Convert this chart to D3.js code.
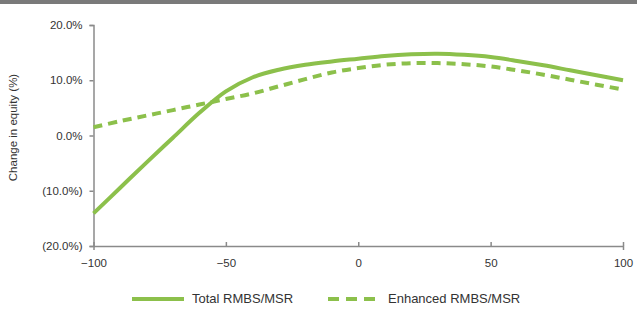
<!DOCTYPE html>
<html>
<head>
<meta charset="utf-8">
<script src="https://cdn.jsdelivr.net/npm/d3@7"></script>
<style>
  body { margin: 0; background: #fff; }
  text { font-family: "Liberation Sans", Arial, sans-serif; fill: #333; }
</style>
</head>
<body>
<div id="chart-area"></div>
<script>
// rate shock (bps) on x, change in equity (%) on y
const shocks = [-100, -90, -80, -70, -60, -50, -40, -30, -20, -10, 0, 10, 20, 30, 40, 50, 60, 70, 80, 90, 100]
const totalRmbs = [-14.1, -9.5, -4.9, -0.4, 4.1, 8.0, 10.5, 11.9, 12.8, 13.4, 13.9, 14.4, 14.7, 14.8, 14.6, 14.2, 13.5, 12.7, 11.8, 10.9, 10.0]
const enhancedRmbs = [1.5, 2.6, 3.6, 4.6, 5.6, 6.6, 7.6, 8.9, 10.2, 11.4, 12.2, 12.8, 13.1, 13.1, 12.9, 12.5, 11.8, 11.0, 10.1, 9.2, 8.3]
const yTicks = [-20, -10, 0, 10, 20]
const xTicks = [-100, -50, 0, 50, 100]

const series = [
    { name: "Total RMBS/MSR", values: totalRmbs, dash: null },
    { name: "Enhanced RMBS/MSR", values: enhancedRmbs, dash: "9,6" }
]

const W = 637, H = 310
const MARGIN = { LEFT: 93.5, RIGHT: 14, TOP: 25, BOTTOM: 64 }
const WIDTH = W - MARGIN.LEFT - MARGIN.RIGHT
const HEIGHT = H - MARGIN.TOP - MARGIN.BOTTOM
const GREEN = "#8cc04b"
const AXIS = "#8a8a8a"

const svg = d3.select("#chart-area").append("svg")
    .attr("width", W)
    .attr("height", H)

// grey strip at the top
svg.append("rect")
    .attr("x", 0).attr("y", 0)
    .attr("width", W).attr("height", 4)
    .attr("fill", "#7a7a7a")

const g = svg.append("g")
    .attr("transform", `translate(${MARGIN.LEFT}, ${MARGIN.TOP})`)

const x = d3.scaleLinear().domain([-100, 100]).range([0, WIDTH])
const y = d3.scaleLinear().domain([-20, 20]).range([HEIGHT, 0])

const fmtPct = d => d < 0 ? `(${Math.abs(d).toFixed(1)}%)` : `${d.toFixed(1)}%`

// y axis
const yAxis = g.append("g")
    .call(d3.axisLeft(y).tickValues(yTicks).tickFormat(fmtPct).tickSize(4).tickPadding(7))
yAxis.select(".domain").attr("stroke", AXIS).attr("stroke-width", 1.5)
yAxis.selectAll(".tick line").attr("stroke", AXIS).attr("stroke-width", 1.5)
yAxis.selectAll("text")
    .attr("font-size", "11.5px")
    .attr("fill", "#333")
    .style("font-family", "'Liberation Sans', Arial, sans-serif")

// x axis
const xAxis = g.append("g")
    .attr("transform", `translate(0, ${HEIGHT})`)
    .call(d3.axisBottom(x).tickValues(xTicks).tickSize(4).tickSizeOuter(4).tickPadding(9))
xAxis.select(".domain").attr("stroke", AXIS).attr("stroke-width", 1.5)
xAxis.selectAll(".tick line").attr("stroke", AXIS).attr("stroke-width", 1.5)
    .attr("y1", -4).attr("y2", 0)
xAxis.selectAll("text")
    .attr("font-size", "11.5px")
    .attr("fill", "#333")
    .style("font-family", "'Liberation Sans', Arial, sans-serif")

// axis title
g.append("text")
    .attr("transform", "rotate(-90)")
    .attr("x", -(y(0) - 8))
    .attr("y", -77)
    .attr("text-anchor", "middle")
    .attr("font-size", "11.5px")
    .text("Change in equity (%)")

const line = d3.line()
    .x((d, i) => x(shocks[i]))
    .y(d => y(d))
    .curve(d3.curveCatmullRom.alpha(0.5))

g.selectAll("path.series")
    .data(series)
    .enter().append("path")
    .attr("class", "series")
    .attr("d", d => line(d.values))
    .attr("fill", "none")
    .attr("stroke", GREEN)
    .attr("stroke-width", 4)
    .attr("stroke-dasharray", d => d.dash)

// legend
const legend = svg.append("g").attr("transform", "translate(0, 302)")
const legendX = [132, 328]
series.forEach((s, i) => {
    const lg = legend.append("g").attr("transform", `translate(${legendX[i]}, 0)`)
    lg.append("line")
        .attr("x1", 0).attr("x2", 52)
        .attr("y1", -3).attr("y2", -3)
        .attr("stroke", GREEN)
        .attr("stroke-width", 4)
        .attr("stroke-dasharray", s.dash ? "11,7" : null)
    lg.append("text")
        .attr("x", 60)
        .attr("y", 1)
        .attr("font-size", "13px")
        .text(s.name)
})
</script>
</body>
</html>
